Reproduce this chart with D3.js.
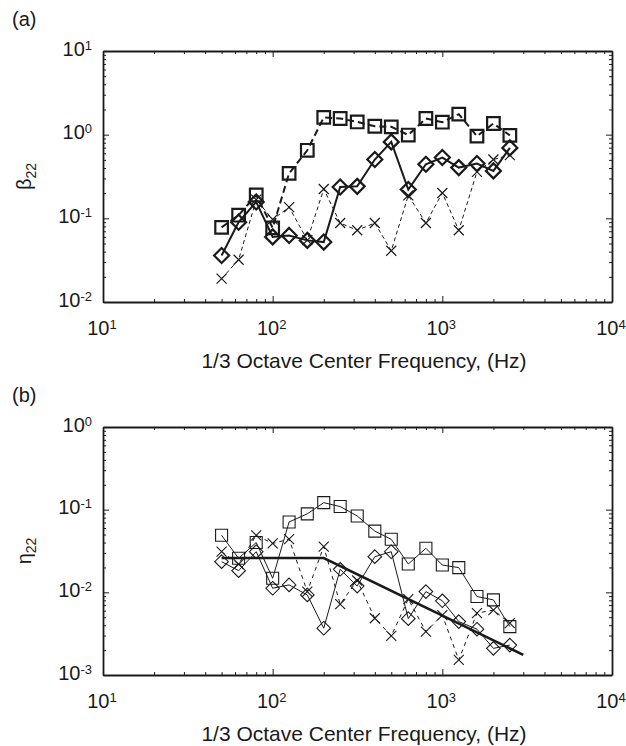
<!DOCTYPE html>
<html lang="en">
<head>
<meta charset="UTF-8">
<title>beta22 / eta22</title>
<script src="https://cdn.jsdelivr.net/npm/d3@7"></script>
<style>
    body { margin: 0; background: white; }
    svg { display: block; }
    text { font-family: "Liberation Sans", Arial, Helvetica, sans-serif; fill: #1a1a1a; }
    .axis path, .axis line { stroke: #1a1a1a; }
</style>
</head>
<body>
<div id="chart"></div>
<script>
    // 1/3 octave centre frequencies (Hz)
    const freqs = [50, 63, 80, 100, 125, 160, 200, 250, 315, 400, 500, 630, 800, 1000, 1250, 1600, 2000, 2500];

    // panel (a) beta22
    const betaSquare  = [0.078, 0.109, 0.19, 0.077, 0.345, 0.65, 1.61, 1.56, 1.42, 1.26, 1.24, 0.99, 1.56, 1.41, 1.76, 0.96, 1.36, 0.98];
    const betaDiamond = [0.036, 0.090, 0.157, 0.060, 0.0625, 0.0545, 0.052, 0.237, 0.241, 0.504, 0.82, 0.221, 0.443, 0.533, 0.404, 0.452, 0.369, 0.695];
    const betaCross   = [0.019, 0.032, 0.167, 0.097, 0.136, 0.055, 0.224, 0.088, 0.072, 0.088, 0.041, 0.188, 0.088, 0.201, 0.072, 0.359, 0.505, 0.569];

    // panel (b) eta22
    const etaSquare  = [0.049, 0.0258, 0.040, 0.0148, 0.071, 0.089, 0.1216, 0.109, 0.084, 0.055, 0.0438, 0.022, 0.0341, 0.0214, 0.0199, 0.0089, 0.0081, 0.00385];
    const etaDiamond = [0.0235, 0.0183, 0.031, 0.0112, 0.0123, 0.0093, 0.00368, 0.019, 0.0119, 0.027, 0.031, 0.0048, 0.0102, 0.0079, 0.00443, 0.00358, 0.0021, 0.0023];
    const etaCross   = [0.031, 0.022, 0.049, 0.039, 0.044, 0.0102, 0.0357, 0.0072, 0.0139, 0.00486, 0.00297, 0.0083, 0.00335, 0.0053, 0.00152, 0.0056, 0.0061, 0.00423];
    // fitted model line
    const fitFreqs = [50, 200, 3000];
    const fitVals  = [0.026, 0.026, 0.00175];

    // tick label exponents
    const xExps = [1, 2, 3, 4];
    const yExpsA = [-2, -1, 0, 1];
    const yExpsB = [-3, -2, -1, 0];

    const xTitle = "1/3 Octave Center Frequency, (Hz)";
    const ink = "#1a1a1a";

    const svg = d3.select("#chart").append("svg").attr("width", 626).attr("height", 746);

    const x = d3.scaleLog().domain([10, 1e4]).range([103, 612]);

    // marker shapes
    function marker(type, s) {
        if (type === "square") return `M${-s},${-s}H${s}V${s}H${-s}Z`;
        if (type === "diamond") return `M0,${-s}L${s},0L0,${s}L${-s},0Z`;
        return `M${-s},${-s}L${s},${s}M${-s},${s}L${s},${-s}`;
    }

    function drawPanel(opts) {
        const y = d3.scaleLog().domain(opts.yDomain).range([opts.bottom, opts.top]);
        const g = svg.append("g");

        const isMajor = v => Math.abs(Math.log10(v) - Math.round(Math.log10(v))) < 1e-9;
        const xMajor = x.ticks().filter(isMajor);
        const xMinor = x.ticks().filter(v => !isMajor(v));
        const yMajor = y.ticks().filter(isMajor);
        const yMinor = y.ticks().filter(v => !isMajor(v));

        const axes = [
            [d3.axisBottom, x, `translate(0,${opts.bottom})`, xMajor, xMinor],
            [d3.axisTop, x, `translate(0,${opts.top})`, xMajor, xMinor],
            [d3.axisLeft, y, `translate(${x.range()[0]},0)`, yMajor, yMinor],
            [d3.axisRight, y, `translate(${x.range()[1]},0)`, yMajor, yMinor]
        ];
        axes.forEach(([ax, sc, tr, maj, min]) => {
            [[maj, -6], [min, -3]].forEach(([vals, len], i) => {
                const a = g.append("g").attr("class", "axis").attr("transform", tr)
                    .call(ax(sc).tickValues(vals).tickSize(len).tickSizeOuter(0).tickFormat(() => ""));
                a.selectAll("text").remove();
                a.selectAll("line").attr("stroke-width", 1);
                if (i === 1) a.select(".domain").remove();
                else a.select(".domain").attr("stroke-width", 1.8);
            });
        });

        // x tick labels
        xExps.forEach(e => {
            const t = g.append("text").attr("x", x(Math.pow(10, e)) - 1).attr("y", opts.bottom + 33)
                .attr("text-anchor", "middle").attr("font-size", 20);
            t.append("tspan").text("10");
            t.append("tspan").attr("font-size", 13).attr("dy", -6).text(e);
        });
        // y tick labels
        opts.yExps.forEach(e => {
            const t = g.append("text").attr("x", 92).attr("y", y(Math.pow(10, e)) + 4.5)
                .attr("text-anchor", "end").attr("font-size", 20);
            t.append("tspan").text("10");
            t.append("tspan").attr("font-size", 13).attr("dy", -6).text(e);
        });

        // titles
        g.append("text").attr("x", 364).attr("y", opts.bottom + 66)
            .attr("text-anchor", "middle").attr("font-size", 21).text(xTitle);
        g.append("text").attr("x", 12).attr("y", opts.top - 25).attr("font-size", 20).text(opts.tag);
        const yl = g.append("text").attr("font-size", 20).attr("text-anchor", "middle")
            .attr("transform", `translate(31,${(opts.top + opts.bottom) / 2}) rotate(-90)`);
        yl.append("tspan").text(opts.sym);
        yl.append("tspan").attr("font-size", 14).attr("dy", 5).text("22");

        const line = d3.line().x(d => x(d[0])).y(d => y(d[1]));

        opts.series.forEach(s => {
            const pts = s.fx.map((f, i) => [f, s.vals[i]]);
            g.append("path").attr("d", line(pts)).attr("fill", "none")
                .attr("stroke", ink).attr("stroke-width", s.lw)
                .attr("stroke-dasharray", s.dash || null);
            if (s.type) {
                g.selectAll(null).data(pts).enter().append("path")
                    .attr("transform", d => `translate(${x(d[0])},${y(d[1])})`)
                    .attr("d", marker(s.type, s.size))
                    .attr("fill", "none").attr("stroke", ink).attr("stroke-width", s.mw);
            }
        });
    }

    drawPanel({
        top: 51, bottom: 302, yDomain: [1e-2, 1e1], yExps: yExpsA, tag: "(a)", sym: "\u03B2",
        series: [
            { fx: freqs, vals: betaCross, lw: 1, dash: "4,3", type: "cross", size: 5, mw: 1.2 },
            { fx: freqs, vals: betaSquare, lw: 2, dash: "7,4", type: "square", size: 6.3, mw: 2.2 },
            { fx: freqs, vals: betaDiamond, lw: 2, type: "diamond", size: 7.5, mw: 2.2 }
        ]
    });

    drawPanel({
        top: 427, bottom: 675, yDomain: [1e-3, 1e0], yExps: yExpsB, tag: "(b)", sym: "\u03B7",
        series: [
            { fx: freqs, vals: etaCross, lw: 1, dash: "4,4", type: "cross", size: 5, mw: 1.1 },
            { fx: freqs, vals: etaSquare, lw: 1, type: "square", size: 6, mw: 1.1 },
            { fx: freqs, vals: etaDiamond, lw: 1, type: "diamond", size: 6.8, mw: 1.1 },
            { fx: fitFreqs, vals: fitVals, lw: 2.5 }
        ]
    });
</script>
</body>
</html>
